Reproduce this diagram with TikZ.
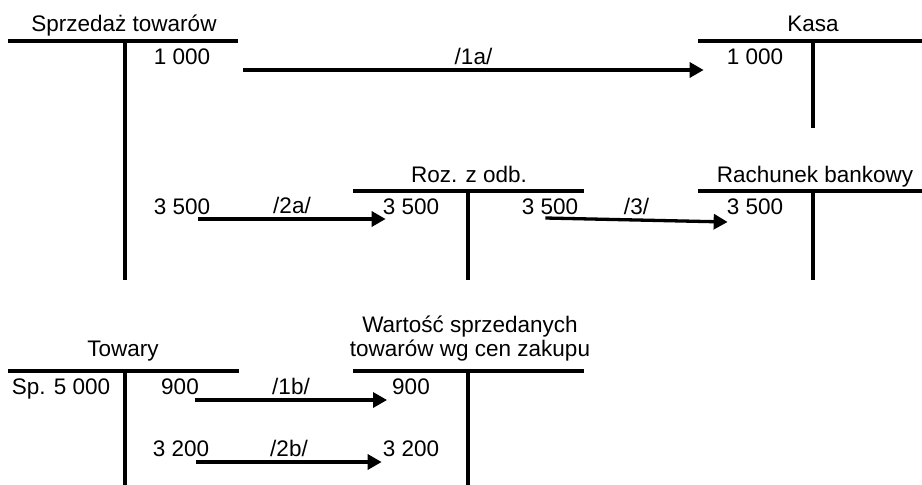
\documentclass[tikz,border=0pt]{standalone}
\usepackage{fontspec}
\setmainfont{Liberation Sans}
\usetikzlibrary{arrows.meta}

\tikzset{
  konto/.style={line width=4.8pt},
  kwota/.style={inner sep=0pt, anchor=base, font=\fontsize{22.5}{24}\selectfont},
  ksieg/.style={line width=3.3pt, -{Triangle[length=14pt,width=15pt]}},
  opis/.style={kwota, midway, yshift=6pt}
}

\begin{document}
\begin{tikzpicture}[x=1pt,y=-1pt]
      \useasboundingbox (0,0) rectangle (922,485);

      % Sprzedaz towarow
      \draw[konto] (8,41)--(238,41) (125,41)--(125,280);
      \node[kwota] (sprz) at (124,31) {Sprzedaż towarów};
      \node[kwota] (st1) at (182,64) {1 000};
      \node[kwota] (st2) at (182,214) {3 500};

      % Kasa
      \draw[konto] (698,41)--(922,41) (813,41)--(813,128);
      \node[kwota] (kasa) at (813,31) {Kasa};
      \node[kwota] (ks1) at (755,64) {1 000};

      % Rozrachunki z odbiorcami
      \draw[konto] (353,191)--(584,191) (468,191)--(468,280);
      \node[kwota] (roz) at (469,182) {Roz. z odb.};
      \node[kwota] (rz1) at (411,214) {3 500};
      \node[kwota] (rz2) at (550,214) {3 500};

      % Rachunek bankowy
      \draw[konto] (698,191)--(922,191) (813,191)--(813,280);
      \node[kwota] (rach) at (815,182) {Rachunek bankowy};
      \node[kwota] (rb1) at (755,214) {3 500};

      % Towary
      \draw[konto] (8,371)--(239,371) (125,371)--(125,485);
      \node[kwota] (tow) at (123,356) {Towary};
      \node[kwota] (sp) at (61,394) {Sp. 5 000};
      \node[kwota] (tw1) at (180,394) {900};
      \node[kwota] (tw2) at (181,456) {3 200};

      % Wartosc sprzedanych towarow
      \draw[konto] (353,371)--(584,371) (468,371)--(468,485);
      \node[kwota, align=center] (wst) at (470,356) {Wartość sprzedanych\\towarów wg cen zakupu};
      \node[kwota] (ws1) at (411,394) {900};
      \node[kwota] (ws2) at (411,456) {3 200};

      % ksiegowania
      \draw[ksieg] ([xshift=33pt,yshift=-6pt]st1.base east) -- ([xshift=-23pt,yshift=-6pt]ks1.base west) node[opis] (o1a) {/1a/};
      \draw[ksieg] ([xshift=-12pt,yshift=-5pt]st2.base east) -- ([xshift=3pt,yshift=-5pt]rz1.base west) node[opis] (o2a) {/2a/};
      \draw[ksieg] ([xshift=-33pt,yshift=-4pt]rz2.base east) -- ([xshift=1pt,yshift=-8pt]rb1.base west) node[opis] (o3) {/3/};
      \draw[ksieg] ([xshift=-4pt,yshift=-6pt]tw1.base east) -- ([xshift=-5pt,yshift=-6pt]ws1.base west) node[opis] (o1b) {/1b/};
      \draw[ksieg] ([xshift=-13pt,yshift=-6pt]tw2.base east) -- ([xshift=-1pt,yshift=-6pt]ws2.base west) node[opis] (o2b) {/2b/};
    \end{tikzpicture}
\end{document}
